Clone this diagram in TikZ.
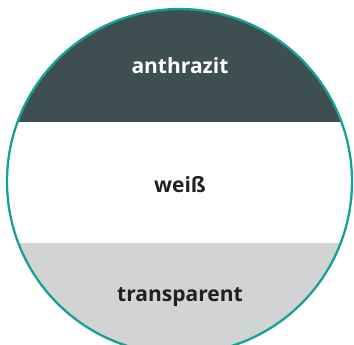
\documentclass[tikz,border=0pt]{standalone}
\usepackage{fontspec}
\setmainfont{Open Sans}
\definecolor{anthrazit}{HTML}{3D4F50}
\definecolor{hellgrau}{HTML}{D2D3D5}
\definecolor{petrol}{HTML}{16A096}
\definecolor{schrift}{HTML}{231F20}
\begin{document}
\begin{tikzpicture}[x=1pt,y=-1pt]
\tikzset{label/.style={font=\bfseries\fontsize{21}{21}\selectfont, inner sep=0pt}}
\useasboundingbox (0,0) rectangle (354,345);
\begin{scope}
\clip (179.5,181.5) circle (172.5pt);
\fill[anthrazit] (0,0) rectangle (354,122);
\fill[hellgrau] (0,243) rectangle (354,360);
\end{scope}
\node[circle, minimum size=345pt, inner sep=0pt, draw=petrol, line width=2.3pt] (kreis) at (179.5,181.5){};
\node[label, white] (lanthrazit) at (180,66){anthrazit};
\node[label, schrift] (lweiss) at (180,185){weiß};
\node[label, schrift] (ltransparent) at (180,297){transparent};
\end{tikzpicture}
\end{document}
